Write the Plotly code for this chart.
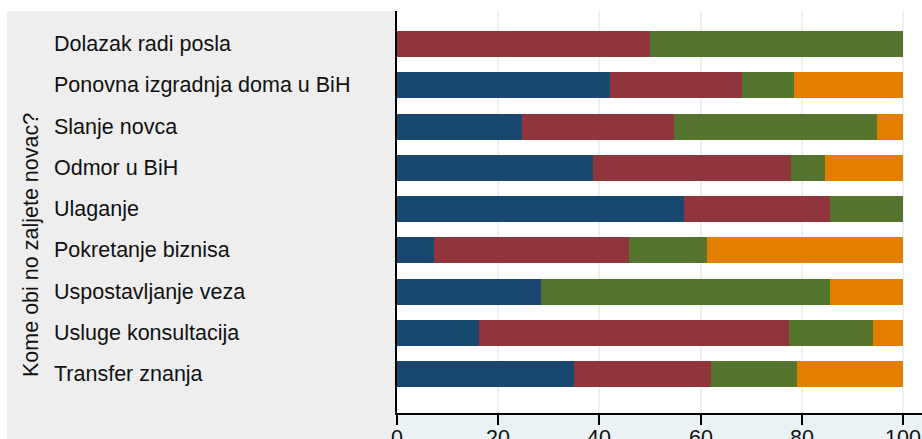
import plotly.graph_objects as go

# Survey answers: share (%) of each response per purpose
categories = [
    "Dolazak radi posla",
    "Ponovna izgradnja doma u BiH",
    "Slanje novca",
    "Odmor u BiH",
    "Ulaganje",
    "Pokretanje biznisa",
    "Uspostavljanje veza",
    "Usluge konsultacija",
    "Transfer znanja",
]
series_1 = [0.0, 42.0, 24.8, 38.7, 56.8, 7.4, 28.5, 16.3, 35.0]
series_2 = [50.0, 26.2, 29.9, 39.2, 28.7, 38.4, 0.0, 61.2, 27.1]
series_3 = [50.0, 10.3, 40.1, 6.6, 14.5, 15.5, 57.0, 16.6, 16.9]
series_4 = [0.0, 21.5, 5.2, 15.5, 0.0, 38.7, 14.5, 5.9, 21.0]
series_names = ["Serija 1", "Serija 2", "Serija 3", "Serija 4"]
x_ticks = [0, 20, 40, 60, 80, 100]
axis_title = "Kome obi no zaljete novac?"

colors = ["#1A476F", "#90353B", "#55752F", "#E37E00"]
FONT = "Liberation Sans, Arial"
FSIZE = 21.5

W, H = 922, 439
ML, MR, MT, MB = 397, 0, 11, 26
plot_w = W - ML - MR
plot_h = H - MT - MB

ypos = list(range(len(categories)))

fig = go.Figure()
for name, vals, col in zip(series_names, [series_1, series_2, series_3, series_4], colors):
    fig.add_trace(go.Bar(
        x=vals, y=ypos, orientation="h", name=name,
        marker=dict(color=col, line=dict(width=0)),
        width=0.63,
    ))

# pixel -> paper coordinates
def px_x(p):
    return (p - ML) / plot_w

def px_y(p):
    return (H - MB - p) / plot_h

shapes = [
    # grey label panel on the left
    dict(type="rect", xref="paper", yref="paper",
         x0=px_x(7), x1=0, y0=px_y(H + 5), y1=1,
         fillcolor="#EEEEEE", line=dict(width=0), layer="below"),
    # light band below the axis
    dict(type="rect", xref="paper", yref="paper",
         x0=0, x1=1.0, y0=px_y(H + 5), y1=0,
         fillcolor="#EAF2F3", line=dict(width=0), layer="below"),
]

annotations = []
for i, c in enumerate(categories):
    annotations.append(dict(
        x=px_x(52), y=i, xref="paper", yref="y", text=c,
        showarrow=False, xanchor="left", yanchor="middle",
        font=dict(family=FONT, size=FSIZE, color="#111111"),
    ))
annotations.append(dict(
    x=px_x(31), y=px_y(245), xref="paper", yref="paper", text=axis_title,
    showarrow=False, textangle=-90, xanchor="center", yanchor="middle",
    font=dict(family=FONT, size=FSIZE, color="#111111"),
))
# x tick labels, set just under the tick marks
for t in x_ticks:
    annotations.append(dict(
        x=t, y=px_y(424), xref="x", yref="paper", text=str(t),
        showarrow=False, xanchor="center", yanchor="top",
        font=dict(family=FONT, size=FSIZE, color="#111111"),
    ))

# x range extends past 100 so the 100 gridline sits inside the plot
x_max = 100 * plot_w / (903 - ML)

fig.update_layout(
    width=W, height=H,
    margin=dict(l=ML, r=MR, t=MT, b=MB, pad=0, autoexpand=False),
    barmode="stack", bargap=0.37,
    showlegend=False,
    paper_bgcolor="white", plot_bgcolor="white",
    shapes=shapes, annotations=annotations,
    xaxis=dict(
        range=[0, x_max], tickvals=x_ticks, showticklabels=False,
        automargin=False,
        showgrid=True, gridcolor="#EAF2F3", gridwidth=1.5,
        showline=True, linecolor="black", linewidth=1.5,
        ticks="outside", ticklen=10, tickwidth=1.5, tickcolor="black",
        zeroline=False,
    ),
    yaxis=dict(
        range=[len(categories) - 1 + 0.945, -0.8],
        automargin=False,
        showticklabels=False, showgrid=False, zeroline=False,
        showline=True, linecolor="black", linewidth=2, ticks="",
    ),
)

fig.write_html("out.html")
